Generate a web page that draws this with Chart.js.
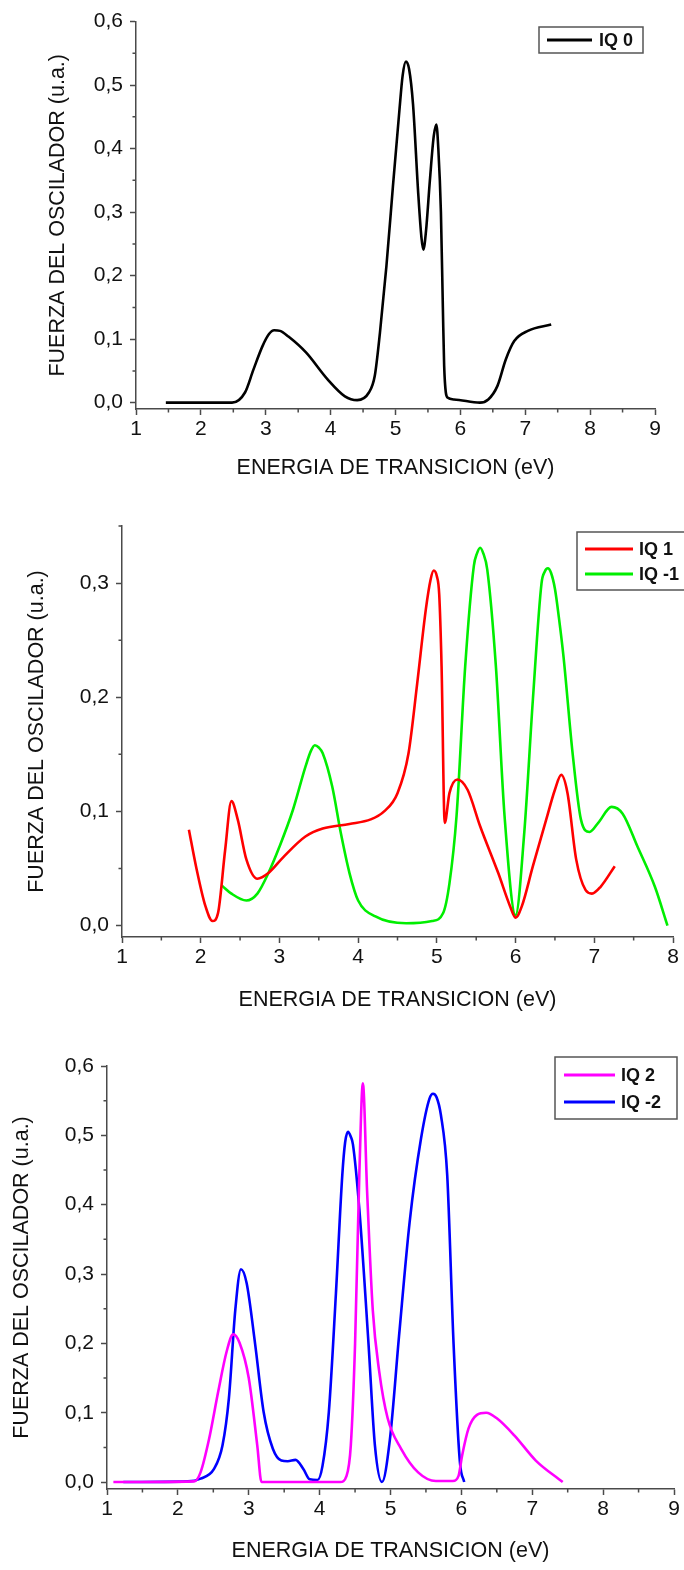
<!DOCTYPE html>
<html>
<head>
<meta charset="utf-8">
<title>Fuerza del oscilador</title>
<script src="https://cdn.jsdelivr.net/npm/chart.js@4.4.0/dist/chart.umd.min.js"></script>
<style>
  body { margin: 0; background: #fff; }
  #wrap { position: relative; width: 684px; height: 1570px; overflow: hidden; }
  canvas { position: absolute; left: 0; }
</style>
</head>
<body>
<div id="wrap">
  <canvas id="c1" width="684" height="490" style="top:0px"></canvas>
  <canvas id="c2" width="684" height="530" style="top:490px"></canvas>
  <canvas id="c3" width="684" height="550" style="top:1020px"></canvas>
</div>

<script>
// --- data ---
// chart 1: IQ 0
const iq0X = [1.46, 2.0, 2.48, 2.68, 2.81, 2.95, 3.05, 3.13, 3.22, 3.35, 3.62, 3.95, 4.22, 4.41, 4.59, 4.68, 4.76, 4.86, 4.96, 5.06, 5.11, 5.16, 5.21, 5.27, 5.35, 5.40, 5.43, 5.47, 5.53, 5.59, 5.63, 5.66, 5.70, 5.73, 5.75, 5.80, 5.90, 6.30, 6.43, 6.57, 6.70, 6.83, 7.04, 7.40];
const iq0Y = [0.0, 0.0, 0.0, 0.016, 0.052, 0.089, 0.108, 0.114, 0.113, 0.104, 0.079, 0.037, 0.010, 0.004, 0.016, 0.042, 0.110, 0.215, 0.340, 0.460, 0.515, 0.537, 0.525, 0.470, 0.330, 0.260, 0.241, 0.270, 0.350, 0.420, 0.438, 0.400, 0.300, 0.150, 0.058, 0.008, 0.005, 0.0, 0.005, 0.026, 0.068, 0.097, 0.113, 0.123];

// chart 2: IQ 1 and IQ -1
const iq1X = [1.85, 1.94, 2.06, 2.15, 2.22, 2.31, 2.39, 2.47, 2.58, 2.72, 2.86, 3.05, 3.33, 3.55, 3.89, 4.16, 4.33, 4.50, 4.64, 4.75, 4.86, 4.92, 4.96, 5.00, 5.03, 5.06, 5.10, 5.16, 5.26, 5.39, 5.55, 5.78, 5.93, 6.00, 6.08, 6.22, 6.39, 6.50, 6.58, 6.66, 6.77, 6.89, 6.97, 7.08, 7.26];
const iq1Y = [0.084, 0.052, 0.017, 0.004, 0.011, 0.066, 0.109, 0.093, 0.058, 0.041, 0.046, 0.060, 0.078, 0.085, 0.089, 0.093, 0.100, 0.116, 0.151, 0.212, 0.277, 0.303, 0.311, 0.306, 0.290, 0.227, 0.090, 0.116, 0.128, 0.119, 0.087, 0.046, 0.017, 0.007, 0.017, 0.052, 0.093, 0.119, 0.132, 0.116, 0.058, 0.031, 0.028, 0.034, 0.052];
const iqm1X = [2.27, 2.39, 2.58, 2.72, 2.86, 3.00, 3.17, 3.33, 3.40, 3.45, 3.50, 3.55, 3.67, 3.78, 3.89, 4.00, 4.22, 4.61, 4.94, 5.08, 5.16, 5.25, 5.36, 5.47, 5.51, 5.55, 5.59, 5.64, 5.75, 5.86, 6.00, 6.11, 6.22, 6.33, 6.37, 6.41, 6.45, 6.50, 6.55, 6.61, 6.72, 6.83, 6.94, 7.05, 7.22, 7.36, 7.55, 7.77, 7.93];
const iqm1Y = [0.035, 0.028, 0.022, 0.028, 0.046, 0.069, 0.101, 0.139, 0.153, 0.158, 0.156, 0.151, 0.122, 0.081, 0.046, 0.022, 0.008, 0.002, 0.004, 0.011, 0.037, 0.096, 0.227, 0.315, 0.326, 0.331, 0.326, 0.312, 0.227, 0.096, 0.009, 0.081, 0.198, 0.300, 0.310, 0.313, 0.309, 0.295, 0.270, 0.235, 0.154, 0.093, 0.082, 0.090, 0.104, 0.098, 0.069, 0.034, 0.0];

// chart 3: IQ 2 and IQ -2
const iq2X = [1.09, 2.23, 2.32, 2.44, 2.57, 2.69, 2.78, 2.87, 3.00, 3.12, 3.18, 4.29, 4.38, 4.44, 4.50, 4.56, 4.61, 4.67, 4.75, 4.84, 4.96, 5.15, 5.39, 5.64, 5.88, 5.96, 6.01, 6.10, 6.22, 6.35, 6.50, 6.75, 7.05, 7.43];
const iq2Y = [0.0, 0.001, 0.014, 0.062, 0.131, 0.189, 0.213, 0.201, 0.150, 0.053, 0.0, 0.0, 0.009, 0.053, 0.199, 0.443, 0.575, 0.419, 0.248, 0.160, 0.092, 0.048, 0.014, 0.0015, 0.0015, 0.009, 0.038, 0.077, 0.097, 0.100, 0.092, 0.067, 0.031, 0.0];
const iqm2X = [1.23, 2.14, 2.32, 2.51, 2.63, 2.72, 2.81, 2.89, 2.97, 3.09, 3.21, 3.34, 3.46, 3.55, 3.66, 3.77, 3.86, 3.97, 4.04, 4.13, 4.23, 4.32, 4.36, 4.40, 4.44, 4.47, 4.56, 4.69, 4.78, 4.88, 4.99, 5.12, 5.27, 5.43, 5.55, 5.60, 5.65, 5.71, 5.80, 5.89, 5.98, 6.04];
const iqm2Y = [0.0, 0.001, 0.005, 0.019, 0.053, 0.121, 0.248, 0.307, 0.287, 0.199, 0.101, 0.048, 0.031, 0.030, 0.032, 0.019, 0.004, 0.003, 0.023, 0.101, 0.272, 0.443, 0.490, 0.505, 0.498, 0.487, 0.394, 0.199, 0.053, 0.0, 0.060, 0.210, 0.375, 0.495, 0.553, 0.560, 0.555, 0.530, 0.443, 0.199, 0.028, 0.0];

const xTitle = 'ENERGIA DE TRANSICION (eV)';
const yTitle = 'FUERZA DEL OSCILADOR (u.a.)';

const axisColor = '#4a4a4a';
const textColor = '#111';
const fontFam = '"Liberation Sans", Arial, sans-serif';

// minor ticks + boxed legend, Origin style
const extras = {
  id: 'extras',
  afterDraw(chart, args, opts) {
    const ctx = chart.ctx, xs = chart.scales.x, ys = chart.scales.y, a = chart.chartArea;
    ctx.save();
    ctx.strokeStyle = axisColor;
    ctx.lineWidth = 1.5;
    ctx.beginPath();
    for (let v = Math.ceil(xs.min) + 0.5; v < xs.max; v += 1) {
      const p = xs.getPixelForValue(v);
      ctx.moveTo(p, a.bottom); ctx.lineTo(p, a.bottom + 3.5);
    }
    for (let v = 0.05; v <= ys.max + 1e-9; v += 0.1) {
      const p = ys.getPixelForValue(v);
      ctx.moveTo(a.left, p); ctx.lineTo(a.left - 3.5, p);
    }
    ctx.stroke();

    // legend
    const L = opts.legend;
    ctx.lineWidth = 1.5;
    ctx.strokeStyle = '#555';
    ctx.strokeRect(L.box[0], L.box[1], L.box[2] - L.box[0], L.box[3] - L.box[1]);
    ctx.font = 'bold 18px ' + fontFam;
    ctx.textBaseline = 'middle';
    ctx.fillStyle = textColor;
    chart.data.datasets.forEach((ds, i) => {
      const y = L.rows[i];
      ctx.strokeStyle = ds.borderColor;
      ctx.lineWidth = 3;
      ctx.beginPath();
      ctx.moveTo(L.line[0], y); ctx.lineTo(L.line[1], y);
      ctx.stroke();
      ctx.fillText(ds.label, L.textX, y + 1);
    });
    ctx.restore();
  }
};

function makeChart(id, c) {
  new Chart(document.getElementById(id), {
    type: 'line',
    data: {
      datasets: c.series.map(s => ({
        label: s.label,
        data: s.xs.map((x, i) => ({ x: x, y: s.ys[i] })),
        borderColor: s.color,
        borderWidth: 2.6,
        pointRadius: 0,
        cubicInterpolationMode: 'monotone',
        fill: false
      }))
    },
    options: {
      responsive: false,
      animation: false,
      devicePixelRatio: 1,
      layout: { padding: { top: c.top, right: 684 - c.right, left: 0, bottom: 0 } },
      plugins: {
        legend: { display: false },
        tooltip: { enabled: false },
        extras: { legend: c.legend }
      },
      scales: {
        x: {
          type: 'linear',
          min: c.xMin, max: c.xMax,
          afterFit: s => { s.height = c.h - c.bottom; },
          border: { color: axisColor, width: 1.5 },
          grid: { drawOnChartArea: false, tickLength: 6, tickWidth: 1.5, tickColor: axisColor },
          ticks: { stepSize: 1, includeBounds: false, autoSkip: false, maxRotation: 0, padding: 2,
                   color: textColor, font: { family: fontFam, size: 21 }, callback: v => String(v) },
          title: { display: true, text: xTitle, color: textColor,
                   font: { family: fontFam, size: 21.5 }, padding: { top: 0, bottom: c.xTitlePad } }
        },
        y: {
          type: 'linear',
          min: -0.01, max: c.yMax,
          afterFit: s => { s.width = c.left; },
          border: { color: axisColor, width: 1.5 },
          grid: { drawOnChartArea: false, tickLength: 6, tickWidth: 1.5, tickColor: axisColor },
          ticks: { stepSize: 0.1, includeBounds: false, padding: 7, color: textColor,
                   font: { family: fontFam, size: 21 },
                   callback: v => (Math.abs(v) < 1e-9 ? 0 : v).toFixed(1).replace('.', ',') },
          title: { display: true, text: yTitle, color: textColor,
                   font: { family: fontFam, size: 21.5 }, padding: { top: c.yTitlePad, bottom: 0 } }
        }
      }
    },
    plugins: [extras]
  });
}

makeChart('c1', {
  h: 490, top: 21.6, bottom: 409, left: 136, right: 655,
  xMin: 1, xMax: 9, yMax: 0.6, xTitlePad: 9, yTitlePad: 45,
  series: [{ label: 'IQ 0', xs: iq0X, ys: iq0Y, color: '#000000' }],
  legend: { box: [539, 27, 643, 53], line: [547, 592], textX: 599, rows: [40] }
});

makeChart('c2', {
  h: 530, top: 36, bottom: 447, left: 122, right: 673,
  xMin: 1, xMax: 8, yMax: 0.35, xTitlePad: 7, yTitlePad: 24,
  series: [
    { label: 'IQ 1', xs: iq1X, ys: iq1Y, color: '#ff0000' },
    { label: 'IQ -1', xs: iqm1X, ys: iqm1Y, color: '#00ee00' }
  ],
  legend: { box: [577, 42, 700, 100], line: [585, 633], textX: 639, rows: [59, 84] }
});

makeChart('c3', {
  h: 550, top: 46, bottom: 469, left: 107, right: 674,
  xMin: 1, xMax: 9, yMax: 0.6, xTitlePad: 6, yTitlePad: 9,
  series: [
    { label: 'IQ 2', xs: iq2X, ys: iq2Y, color: '#ff00ff' },
    { label: 'IQ -2', xs: iqm2X, ys: iqm2Y, color: '#0000ff' }
  ],
  legend: { box: [555, 37, 677, 99], line: [564, 615], textX: 621, rows: [55, 82] }
});
</script>
</body>
</html>
